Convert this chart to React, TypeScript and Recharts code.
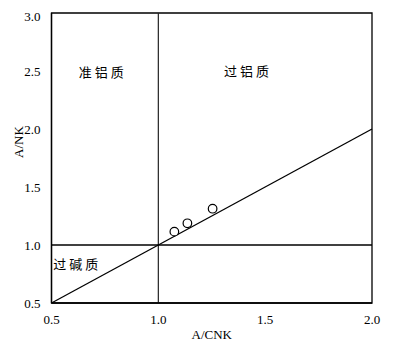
import {
  ScatterChart,
  Scatter,
  XAxis,
  YAxis,
  ReferenceLine,
  ReferenceArea,
  ReferenceDot,
} from 'recharts';

// Sample points (A/CNK, A/NK)
const acnk = [1.075, 1.136, 1.254];
const ank = [1.115, 1.187, 1.313];

const xTicks = [0.5, 1.0, 1.5, 2.0];
const yTicks = [0.5, 1.0, 1.5, 2.0, 2.5, 3.0];

// Field names and where they sit
const fieldNames = ['准铝质', '过铝质', '过碱质'];
const fieldX = [0.74, 1.42, 0.62];
const fieldY = [2.49, 2.5, 0.83];

const points = acnk.map((x, i) => ({ x, y: ank[i] }));
const fields = fieldNames.map((name, i) => ({ name, x: fieldX[i], y: fieldY[i] }));

const serif = '"Liberation Serif", "Times New Roman", serif';
const cjk = '"Noto Sans CJK SC", sans-serif';

export default function App() {
  return (
    <ScatterChart width={392} height={335} margin={{ top: 5, right: 28, left: 0, bottom: 10 }}>
      <XAxis
        type="number"
        dataKey="x"
        domain={[0.5, 2.0]}
        ticks={xTicks}
        tickFormatter={(v: number) => v.toFixed(1)}
        tick={{ fontSize: 13, fill: '#000', fontFamily: serif }}
        tickLine={false}
        axisLine={{ stroke: '#000', strokeWidth: 1.3 }}
        tickMargin={6}
        height={30}
        label={{ value: 'A/CNK', position: 'insideBottom', offset: -6, fontSize: 13, fill: '#000', fontFamily: serif }}
      />
      <YAxis
        type="number"
        dataKey="y"
        domain={[0.5, 3.0]}
        ticks={yTicks}
        tickFormatter={(v: number) => v.toFixed(1)}
        tick={{ fontSize: 13, fill: '#000', fontFamily: serif }}
        tickLine={false}
        axisLine={{ stroke: '#000', strokeWidth: 1.3 }}
        tickMargin={5}
        width={43.5}
        label={{ value: 'A/NK', angle: -90, position: 'insideLeft', offset: 10, fontSize: 13, fill: '#000', fontFamily: serif }}
      />
      <ReferenceArea x1={0.5} x2={2.0} y1={0.5} y2={3.0} fill="none" stroke="#000" strokeWidth={1.3} />
      <ReferenceLine x={1.0} stroke="#222" strokeWidth={1.2} />
      <ReferenceLine y={1.0} stroke="#000" strokeWidth={1.3} />
      <ReferenceLine
        segment={[{ x: 0.5, y: 0.5 }, { x: 2.0, y: 2.0 }]}
        stroke="#000"
        strokeWidth={1.3}
      />
      {fields.map((f) => (
        <ReferenceDot
          key={f.name}
          x={f.x}
          y={f.y}
          r={0}
          stroke="none"
          label={{ value: f.name, position: 'center', fontSize: 13, fill: '#000', fontFamily: cjk, letterSpacing: 3 }}
        />
      ))}
      <Scatter
        data={points}
        isAnimationActive={false}
        shape={(p: any) => <circle cx={p.cx} cy={p.cy} r={4.3} fill="#fff" stroke="#000" strokeWidth={1.2} />}
      />
    </ScatterChart>
  );
}
